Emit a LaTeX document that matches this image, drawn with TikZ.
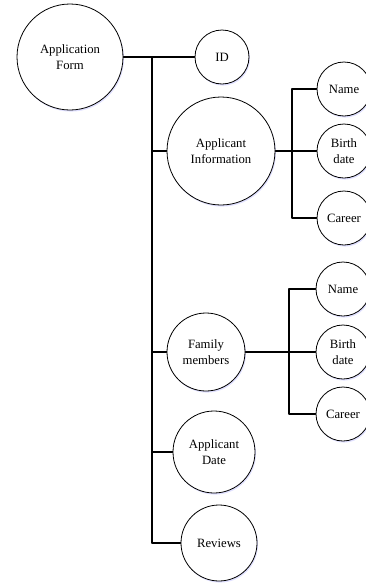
\documentclass[tikz,border=0pt]{standalone}
\usepackage{fontspec}
\setmainfont{Liberation Serif}
\usetikzlibrary{shadows}
\begin{document}
\begin{tikzpicture}[line cap=round,line join=round,x=1pt,y=-1pt,
  bubble/.style={circle,draw,line width=0.8pt,fill=white,align=center,inner sep=0pt,
    font=\fontsize{12.7}{16.5}\selectfont,
    drop shadow={shadow xshift=1pt,shadow yshift=-1.6pt,fill=blue!12,opacity=1}},
  link/.style={line width=1.2pt}]
\useasboundingbox (0,0) rectangle (365,584);
\node[bubble,minimum size=106pt] (af) at (70,57) {Application\\Form};
\node[bubble,minimum size=54pt] (id) at (222,57) {ID};
\node[bubble,minimum size=108pt] (ai) at (221,151) {Applicant\\Information};
\node[bubble,minimum size=78pt] (fm) at (206,352) {Family\\members};
\node[bubble,minimum size=82pt] (ad) at (214,452) {Applicant\\Date};
\node[bubble,minimum size=76pt] (rv) at (219,543) {Reviews};
\node[bubble,minimum size=54pt] (ain) at (344,89) {Name};
\node[bubble,minimum size=54pt] (aib) at (344,151) {Birth\\date};
\node[bubble,minimum size=54pt] (aic) at (344,218) {Career};
\node[bubble,minimum size=54pt] (fmn) at (343,289) {Name};
\node[bubble,minimum size=54pt] (fmb) at (343,352) {Birth\\date};
\node[bubble,minimum size=54pt] (fmc) at (343,414) {Career};
\coordinate (top) at (152,57);
\coordinate (bot) at (152,543);
\coordinate (aiJ) at (292,151);
\coordinate (fmJ) at (289,352);
\draw[link] (af) -- (id);
\draw[link] (top) -- (bot);
\foreach \n in {ai,fm,ad,rv}
\draw[link] (\n.west) -- (\n.west -| top);
\draw[link] (ai) -- (aiJ);
\draw[link] (ain.west) -| (aiJ) |- (aic.west);
\draw[link] (aiJ) -- (aib.west);
\draw[link] (fm) -- (fmJ);
\draw[link] (fmn.west) -| (fmJ) |- (fmc.west);
\draw[link] (fmJ) -- (fmb.west);
\end{tikzpicture}
\end{document}
